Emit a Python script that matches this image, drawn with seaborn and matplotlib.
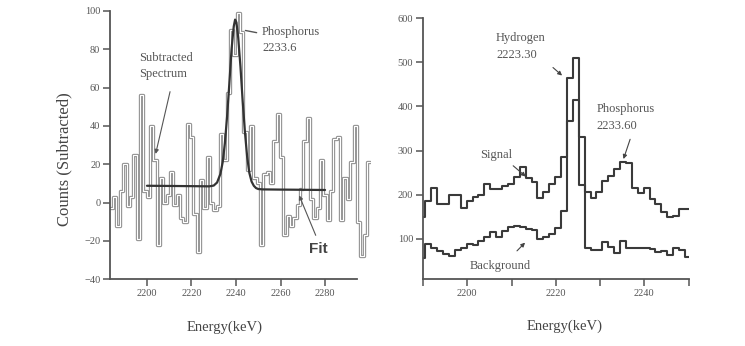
import numpy as np
import matplotlib
matplotlib.use("Agg")
import matplotlib.pyplot as plt
import seaborn as sns

# ---- 左图：扣除本底后的谱 (每道 1.5 keV) ----
left_start = 2183.3
left_width = 1.5
left_counts = [-3, 3, -12, 6, 20, -2, 3, 25, -19, 56,
               6, 3, 40, 22, -22, 13, 0, 4, 16, -1,
               4, -8, -10, 41, 34, -6, -26, 12, -3, 24,
               0, -4, -2, 36, 22, 57, 90, 77, 99, 89,
               37, 17, 40, 13, 10, -22, 15, 16, 10, 32,
               46, 24, -17, -7, -12, -8, -1, 7, 32, 44,
               2, -8, -3, 22, 4, -9, 6, 33, 34, -9,
               13, 2, 21, 40, -10, -28, -17, 21]

# 拟合曲线 (从图上读的点)
fit_energy = [2200, 2210, 2220, 2228, 2230, 2231.5, 2233, 2234, 2235, 2236,
              2237, 2238, 2239, 2239.6, 2240.2, 2241, 2242, 2243, 2244, 2245,
              2246, 2247, 2248, 2249, 2250, 2252, 2260, 2270, 2280]
fit_counts = [8.8, 8.7, 8.6, 8.5, 8.9, 10.5, 15, 21, 31, 45,
              62, 80, 92, 95.5, 94, 86, 71, 53, 37, 24,
              15.5, 11, 8.8, 7.6, 7.1, 6.9, 6.8, 6.7, 6.6]

# ---- 右图：信号与本底 (每道约 1.33 keV) ----
right_start = 2189.2
right_width = 4 / 3
signal_counts = [150, 185, 215, 178, 178, 200, 200, 170, 185, 195,
                 200, 225, 212, 212, 220, 225, 240, 262, 238, 228,
                 192, 205, 225, 240, 286, 464, 511, 222, 205, 192,
                 205, 230, 243, 258, 275, 272, 215, 203, 215, 190,
                 178, 160, 150, 152, 168, 168]
background_counts = [57, 88, 78, 72, 65, 60, 75, 80, 88, 85,
                     95, 103, 115, 103, 118, 127, 130, 127, 122, 120,
                     100, 103, 110, 125, 162, 366, 415, 331, 78, 75,
                     75, 92, 82, 68, 95, 78, 80, 78, 80, 77,
                     70, 72, 62, 80, 75, 58]

sns.set_style("white")
plt.rcParams['font.family'] = ['Liberation Serif', 'DejaVu Serif']


def step_xy(start, width, counts):
    x = start + width * np.arange(len(counts) + 1)
    y = list(counts) + [counts[-1]]
    return x, y


axis_color = '#555555'
fig = plt.figure(figsize=(7.45, 3.46), dpi=100)
ax1 = fig.add_axes([0.1477, 0.1928, 0.3498, 0.7755])
ax2 = fig.add_axes([0.5678, 0.1928, 0.3564, 0.7543])

# 左图
x, y = step_xy(left_start, left_width, left_counts)
sns.lineplot(x=x, y=y, ax=ax1, drawstyle='steps-post', sort=False,
             color='#939393', linewidth=2.4)
sns.lineplot(x=x, y=y, ax=ax1, drawstyle='steps-post', sort=False,
             color='white', linewidth=0.8)
sns.lineplot(x=fit_energy, y=fit_counts, ax=ax1, sort=False,
             color='#333333', linewidth=1.6)

ax1.set_xlim(2183.4, 2300.5)
ax1.set_ylim(-40, 100)
ax1.set_xticks([2200, 2220, 2240, 2260, 2280])
ax1.set_yticks([-40, -20, 0, 20, 40, 60, 80, 100])
ax1.spines['bottom'].set_bounds(2183.4, 2294.4)

tkw = dict(color='#555555', fontsize=9)
ax1.text(2196.4, 71.5, 'Subtracted\nSpectrum', va='center', ha='left',
         linespacing=1.45, **tkw)
ax1.annotate('', xy=(2203.6, 24.0), xytext=(2210.65, 59.3),
             arrowprops=dict(arrowstyle='-|>', color='#555555', lw=0.8,
                             mutation_scale=6))
ax1.text(2251.7, 84.9, 'Phosphorus\n2233.6', va='center', ha='left',
         linespacing=1.45, **tkw)
ax1.annotate('', xy=(2243.0, 90.1), xytext=(2250.5, 88.4),
             arrowprops=dict(arrowstyle='-', color='#555555', lw=1.0))
ax1.text(2276.9, -24.2, 'Fit', va='center', ha='center', fontsize=11,
         fontweight='bold', color='#444444', family=['Liberation Sans'])
ax1.annotate('', xy=(2267.9, 5.1), xytext=(2276.3, -18.4),
             arrowprops=dict(arrowstyle='-|>', color='#555555', lw=0.8,
                             mutation_scale=6))
ax1.set_xlabel('Energy(keV)', fontsize=10.5, color='#444444')
ax1.xaxis.set_label_coords(0.441, -0.152)
ax1.set_ylabel('Counts (Subtracted)', fontsize=12, color='#444444')
ax1.yaxis.set_label_coords(-0.146, 0.448)

# 右图
x, y = step_xy(right_start, right_width, signal_counts)
sns.lineplot(x=x, y=y, ax=ax2, drawstyle='steps-post', sort=False,
             color='#3a3a3a', linewidth=1.5)
x, y = step_xy(right_start, right_width, background_counts)
sns.lineplot(x=x, y=y, ax=ax2, drawstyle='steps-post', sort=False,
             color='#3a3a3a', linewidth=1.5)

ax2.set_xlim(2190, 2250)
ax2.set_ylim(8, 600)
ax2.set_xticks(range(2190, 2251, 10))
ax2.set_xticklabels(['', '2200', '', '2220', '', '2240', ''])
ax2.set_yticks([100, 200, 300, 400, 500, 600])

ax2.text(2206.5, 536, 'Hydrogen\n2223.30', va='center', ha='left',
         linespacing=1.45, **tkw)
ax2.annotate('', xy=(2221.9, 466), xytext=(2218.9, 492.5),
             arrowprops=dict(arrowstyle='-|>', color='#444444', lw=0.8,
                             mutation_scale=6))
ax2.text(2229.3, 375, 'Phosphorus\n2233.60', va='center', ha='left',
         linespacing=1.45, **tkw)
ax2.annotate('', xy=(2235.1, 274.8), xytext=(2237.0, 331.5),
             arrowprops=dict(arrowstyle='-|>', color='#444444', lw=0.8,
                             mutation_scale=6))
ax2.text(2206.5, 290, 'Signal', va='center', ha='center', **tkw)
ax2.annotate('', xy=(2213.7, 237), xytext=(2209.9, 269.6),
             arrowprops=dict(arrowstyle='-|>', color='#444444', lw=0.8,
                             mutation_scale=6))
ax2.text(2207.4, 38.3, 'Background', va='center', ha='center', **tkw)
ax2.annotate('', xy=(2213.5, 95.7), xytext=(2210.8, 68),
             arrowprops=dict(arrowstyle='-|>', color='#444444', lw=0.8,
                             mutation_scale=6))
ax2.set_xlabel('Energy(keV)', fontsize=10.5, color='#444444')
ax2.xaxis.set_label_coords(0.535, -0.156)
ax2.set_ylabel('')

for ax in (ax1, ax2):
    sns.despine(ax=ax)
    for side in ('left', 'bottom'):
        ax.spines[side].set_color(axis_color)
        ax.spines[side].set_linewidth(1.3)
    ax.tick_params(direction='out', length=5, width=1.1, color=axis_color,
                   labelsize=7.5, labelcolor='#555555', pad=2,
                   left=True, bottom=True)

fig.savefig('out.png', dpi=100)
